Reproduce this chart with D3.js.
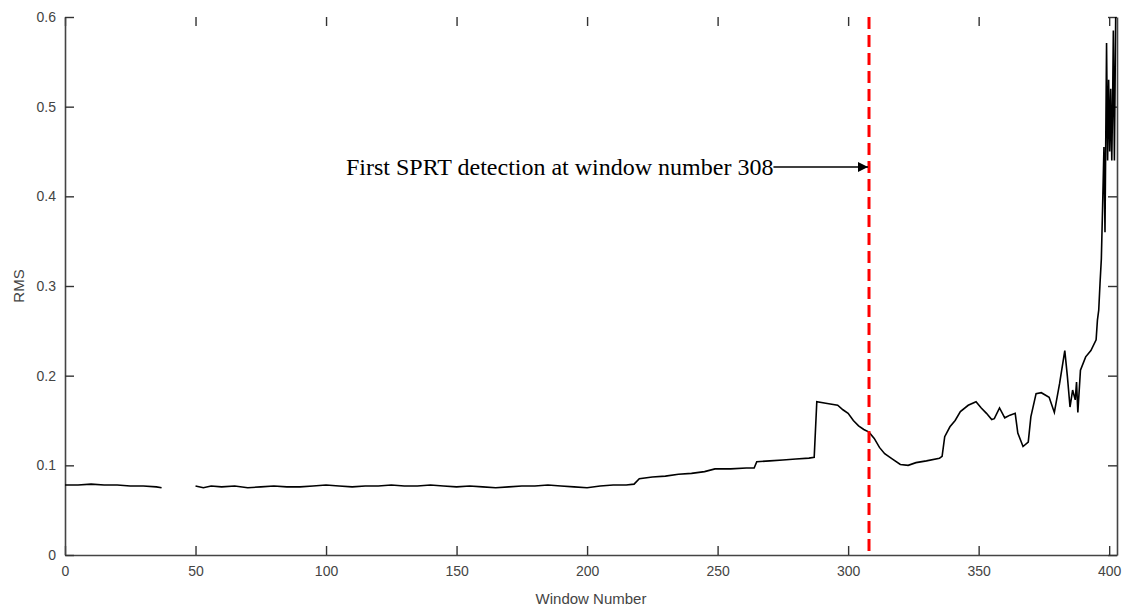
<!DOCTYPE html>
<html>
<head>
<meta charset="utf-8">
<script src="https://cdn.jsdelivr.net/npm/d3@7"></script>
<style>
  body { margin: 0; background: #fff; }
  .tick text { font-family: Arial, "Liberation Sans", sans-serif; font-size: 14px; fill: #444; }
</style>
</head>
<body>
<div id="visuals"></div>
<script>
// window numbers and RMS (null = no data)
var windows = [0, 5, 10, 15, 20, 25, 30, 35, 37, 43,
  50, 53, 56, 60, 65, 70, 75, 80, 85, 90, 95, 100, 105, 110, 115, 120, 125, 130, 135, 140,
  145, 150, 155, 160, 165, 170, 175, 180, 185, 190, 195, 200, 205, 210, 215, 218,
  220, 225, 230, 235, 240, 245, 249, 255, 261, 264, 265, 270, 275, 280, 285, 287,
  288, 292, 296, 298, 300, 302, 304, 306, 308, 310, 312, 314, 317, 320, 323, 326, 330, 335, 336,
  337, 339, 341, 343, 346, 349, 351, 353, 355, 356, 358, 360, 362, 364, 365, 367, 369,
  370, 372, 374, 377, 379, 381, 383, 384, 385, 386, 387, 387.5, 388, 389, 391, 393, 395,
  395.5, 396, 396.5, 397, 397.5, 398, 398.4, 399, 399.4, 399.8, 400.2, 400.6, 401, 401.3, 401.6, 402, 402.5];
var rms = [0.078, 0.078, 0.079, 0.078, 0.078, 0.077, 0.077, 0.076, 0.075, null,
  0.077, 0.075, 0.077, 0.076, 0.077, 0.075, 0.076, 0.077, 0.076, 0.076, 0.077, 0.078, 0.077, 0.076, 0.077, 0.077, 0.078, 0.077, 0.077, 0.078,
  0.077, 0.076, 0.077, 0.076, 0.075, 0.076, 0.077, 0.077, 0.078, 0.077, 0.076, 0.075, 0.077, 0.078, 0.078, 0.079,
  0.085, 0.087, 0.088, 0.090, 0.091, 0.093, 0.096, 0.096, 0.097, 0.097, 0.104, 0.105, 0.106, 0.107, 0.108, 0.109,
  0.171, 0.169, 0.167, 0.162, 0.158, 0.150, 0.144, 0.140, 0.137, 0.130, 0.120, 0.113, 0.107, 0.101, 0.100, 0.103, 0.105, 0.108, 0.110,
  0.132, 0.143, 0.150, 0.160, 0.167, 0.171, 0.164, 0.158, 0.151, 0.152, 0.164, 0.153, 0.156, 0.158, 0.136, 0.121, 0.126,
  0.154, 0.180, 0.181, 0.176, 0.159, 0.191, 0.228, 0.199, 0.165, 0.184, 0.173, 0.193, 0.159, 0.206, 0.221, 0.228, 0.240,
  0.262, 0.273, 0.303, 0.330, 0.390, 0.455, 0.360, 0.571, 0.440, 0.530, 0.450, 0.520, 0.440, 0.500, 0.585, 0.440, 0.600];

var xTicks = [0, 50, 100, 150, 200, 250, 300, 350, 400];
var yTicks = [0, 0.1, 0.2, 0.3, 0.4, 0.5, 0.6];
var detectionWindow = 308;
var annotation = "First SPRT detection at window number 308";

var width = 1126, height = 608;
var plotLeft = 65, plotRight = 1117, plotTop = 17, plotBottom = 555;

var svg = d3.select("#visuals")
    .append("svg")
    .attr("width", width)
    .attr("height", height);

var x = d3.scaleLinear().domain([0, 403]).range([plotLeft, plotRight]);
var y = d3.scaleLinear().domain([0, 0.6]).range([plotBottom, plotTop]);

var points = windows.map(function(w, i) { return {w: w, v: rms[i]}; });

// axes, ticks pointing inwards like the matlab figure
svg.append("g")
    .attr("transform", "translate(0," + plotBottom + ")")
    .call(d3.axisBottom(x).tickValues(xTicks).tickSize(-9).tickSizeOuter(0).tickPadding(11))
svg.append("g")
    .attr("transform", "translate(0," + plotTop + ")")
    .call(d3.axisTop(x).tickValues(xTicks).tickSize(-9).tickSizeOuter(0).tickFormat(""))
    .select(".domain").remove();
svg.append("g")
    .attr("transform", "translate(" + plotLeft + ",0)")
    .call(d3.axisLeft(y).tickValues(yTicks).tickSize(-9).tickSizeOuter(0).tickPadding(9).tickFormat(d3.format("~g")))
svg.append("g")
    .attr("transform", "translate(" + plotRight + ",0)")
    .call(d3.axisRight(y).tickValues(yTicks).tickSize(-9).tickSizeOuter(0).tickFormat(""))

svg.selectAll(".domain").attr("stroke", "#444").attr("stroke-width", 1.6);
svg.selectAll(".tick line").attr("stroke", "#333").attr("stroke-width", 1.4);

var line = d3.line()
    .defined(function(d) { return d.v !== null; })
    .x(function(d) { return x(d.w); })
    .y(function(d) { return y(d.v); });

svg.append("path")
    .datum(points)
    .attr("d", line)
    .attr("fill", "none")
    .attr("stroke", "#000")
    .attr("stroke-width", 1.6);

// detection marker
svg.append("line")
    .attr("x1", x(detectionWindow)).attr("x2", x(detectionWindow))
    .attr("y1", plotTop).attr("y2", plotBottom)
    .attr("stroke", "#ff0000")
    .attr("stroke-width", 3)
    .attr("stroke-dasharray", "12,6");

svg.append("defs").append("marker")
    .attr("id", "arrow")
    .attr("viewBox", "0 0 10 10")
    .attr("refX", 10).attr("refY", 5)
    .attr("markerWidth", 14).attr("markerHeight", 10)
    .attr("markerUnits", "userSpaceOnUse")
    .attr("orient", "auto")
    .append("path")
    .attr("d", "M0,0L10,5L0,10Z")
    .attr("fill", "#000");

var label = svg.append("text")
    .attr("x", 346)
    .attr("y", 175)
    .attr("font-family", "'Times New Roman', 'Liberation Serif', serif")
    .attr("font-size", 24)
    .attr("fill", "#000")
    .text(annotation);

var textEnd = 346 + label.node().getComputedTextLength();
svg.append("line")
    .attr("x1", textEnd).attr("x2", x(detectionWindow) - 1)
    .attr("y1", 167).attr("y2", 167)
    .attr("stroke", "#000")
    .attr("stroke-width", 1.3)
    .attr("marker-end", "url(#arrow)");

// axis titles
svg.append("text")
    .attr("x", (plotLeft + plotRight) / 2)
    .attr("y", 604)
    .attr("text-anchor", "middle")
    .attr("font-family", "Arial, 'Liberation Sans', sans-serif")
    .attr("font-size", 15)
    .attr("fill", "#444")
    .text("Window Number");

svg.append("text")
    .attr("transform", "translate(24," + ((plotTop + plotBottom) / 2) + ") rotate(-90)")
    .attr("text-anchor", "middle")
    .attr("font-family", "Arial, 'Liberation Sans', sans-serif")
    .attr("font-size", 15)
    .attr("fill", "#444")
    .text("RMS");
</script>
</body>
</html>
